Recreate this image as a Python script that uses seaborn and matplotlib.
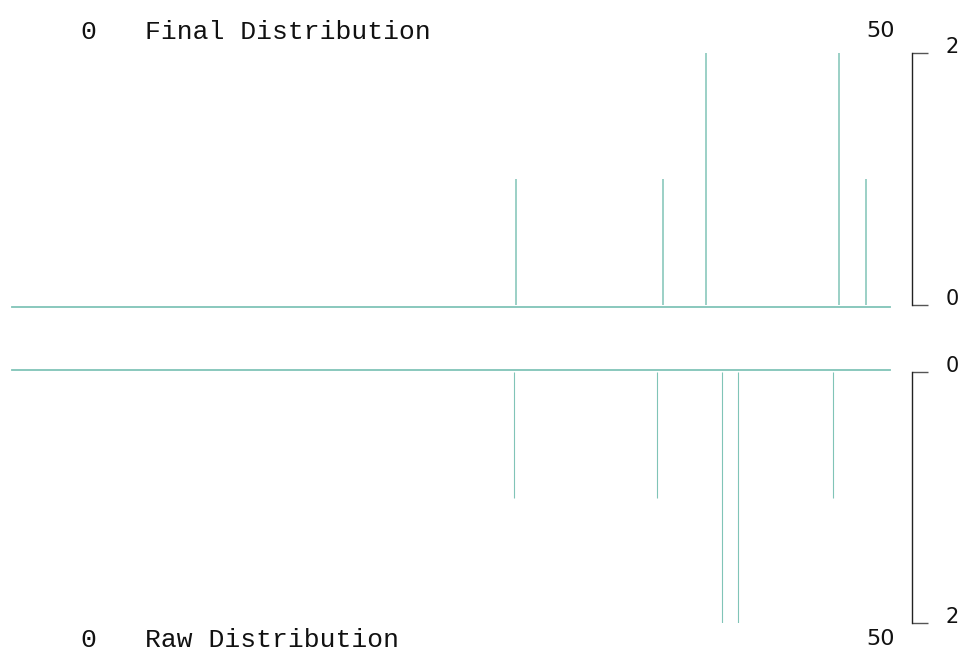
import numpy as np
import matplotlib
matplotlib.use("Agg")
import matplotlib.pyplot as plt
import seaborn as sns

# spike positions (x values) and counts
final_x = [27.0, 36.3, 39.0, 47.4, 49.1]
final_counts = [1, 1, 2, 2, 1]
raw_x = [26.85, 35.9, 40.0, 41.0, 47.0]
raw_counts = [1, 1, 2, 2, 1]

x_ticks = [0, 50]
y_ticks = [0, 2]
titles = ["Final Distribution", "Raw Distribution"]

teal = "#80c4b7"
mono = "Liberation Mono"

sns.set_theme(style="white")
plt.rcParams["font.family"] = ["DejaVu Sans"]

fig = plt.figure(figsize=(9.69, 6.63), dpi=100)
W, H = 969, 663
left, right = 12 / W, 890 / W
ax_top = fig.add_axes([left, (H - 305) / H, right - left, 252 / H])
ax_bot = fig.add_axes([left, (H - 623) / H, right - left, 251 / H])

panels = [
    (ax_top, final_x, final_counts, titles[0], 1.1, "top"),
    (ax_bot, raw_x, raw_counts, titles[1], 0.8, "bottom"),
]

for ax, xs, counts, title, lw, side in panels:
    ax.vlines(xs, 0, counts, color=teal, lw=lw)
    ax.set_xlim(-4.8, 50.6)
    if side == "top":
        ax.set_ylim(0, 2)
    else:
        ax.set_ylim(2, 0)

    sns.despine(ax=ax, left=True, right=False, top=(side == "top"), bottom=(side == "bottom"))
    base = ax.spines["bottom" if side == "top" else "top"]
    base.set_color(teal)
    base.set_linewidth(1.3)
    base.set_position(("outward", 1.4))

    ax.spines["right"].set_position(("outward", 15.8))
    ax.spines["right"].set_bounds(0, 2)
    ax.spines["right"].set_color("#222222")
    ax.spines["right"].set_linewidth(1.0)
    ax.yaxis.tick_right()
    ax.set_yticks(y_ticks)
    ax.set_yticklabels([str(t) for t in y_ticks])
    ax.tick_params(axis="y", which="major", right=True, direction="out",
                   length=11.5, width=1.0, color="#555555", pad=13,
                   labelsize=15, labelcolor="#111111")
    for lab in ax.get_yticklabels():
        lab.set_va("baseline")

    ax.set_xticks([])
    ax.grid(False)

    if side == "top":
        yb, y0, y50 = 1, 9.9, 11.5
    else:
        yb, y0, y50 = 0, -17, -15.8
    ax.annotate(str(x_ticks[0]), xy=(x_ticks[0], yb), xycoords=("data", "axes fraction"),
                xytext=(0, y0), textcoords="offset points", ha="center", va="baseline",
                family=mono, fontsize=19, color="#111111")
    ax.annotate(title, xy=(x_ticks[0], yb), xycoords=("data", "axes fraction"),
                xytext=(41, y0), textcoords="offset points", ha="left", va="baseline",
                family=mono, fontsize=19, color="#111111")
    ax.annotate(str(x_ticks[1]), xy=(x_ticks[1], yb), xycoords=("data", "axes fraction"),
                xytext=(0, y50), textcoords="offset points", ha="center", va="baseline",
                fontsize=16, color="#111111")

fig.savefig("out.png", dpi=100)
